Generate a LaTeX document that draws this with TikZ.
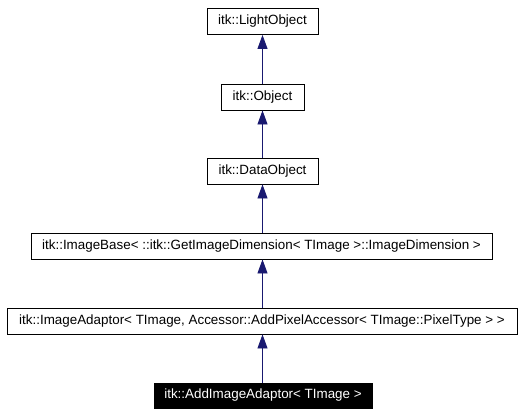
\documentclass[tikz,border=0pt]{standalone}
\usepackage{fontspec}
\setmainfont{Liberation Sans}
\usetikzlibrary{arrows.meta}
\definecolor{edgeblue}{RGB}{25,25,112}
\begin{document}
\begin{tikzpicture}[x=1pt,y=-1pt,
  cls/.style={draw=black,line width=0.9pt,fill=white,inner sep=0pt,font=\fontsize{13.4}{15}\selectfont,text=black,minimum height=26pt},
  cur/.style={cls,fill=black,text=white},
  inh/.style={draw=edgeblue,line width=0.9pt,-{Triangle[length=14pt,width=10pt]}}]
\useasboundingbox[fill=white] (0,0) rectangle (524,415);
\node[cls,minimum width=111pt] (light) at (262.5,21.5) {itk::LightObject};
\node[cls,minimum width=83pt] (obj) at (262.5,97) {itk::Object};
\node[cls,minimum width=111pt] (data) at (262.5,171) {itk::DataObject};
\node[cls,minimum width=461pt] (base) at (261.5,246) {itk::ImageBase<\ ::itk::GetImageDimension<\ TImage >::ImageDimension >};
\node[cls,minimum width=510pt] (adapt) at (262,321) {itk::ImageAdaptor<\ TImage, Accessor::AddPixelAccessor<\ TImage::PixelType > >};
\node[cur,minimum width=218pt,minimum height=25pt] (add) at (263,395.5) {itk::AddImageAdaptor<\ TImage >};
\draw[inh] (obj.north -| data) -- (light.south -| data);
\draw[inh] (data) -- (obj);
\draw[inh] (base.north -| data) -- (data);
\draw[inh] (adapt.north -| data) -- (base.south -| data);
\draw[inh] (add.north -| data) -- (adapt.south -| data);
\end{tikzpicture}
\end{document}
